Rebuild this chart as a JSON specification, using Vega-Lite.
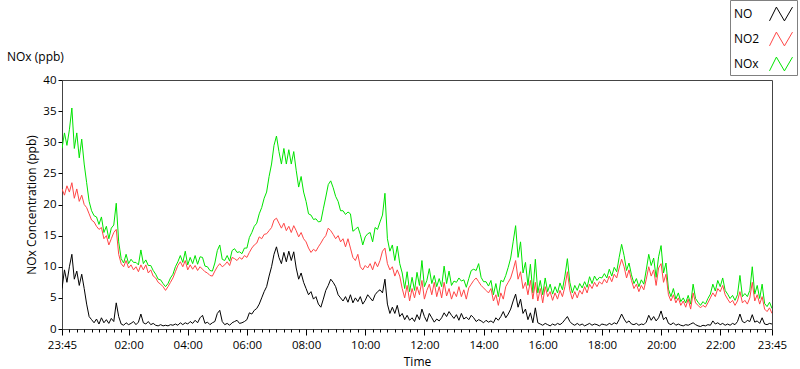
{
"$schema": "https://vega.github.io/schema/vega-lite/v6.json",
"width": 710, "height": 249,
"autosize": {"type": "none"},
"padding": {"left": 62, "top": 80, "right": 28, "bottom": 40},
"background": "white",
"title": {"text": "NOx (ppb)", "anchor": "start", "frame": "group", "dx": -55, "dy": 80, "offset": 16, "fontSize": 12, "fontWeight": "normal", "font": "Open Sans", "color": "#000"},
"data": {"values": [
{"t":"2024-01-01T23:45","NO":6.5,"NO2":22.5,"NOx":29},
{"t":"2024-01-01T23:50","NO":9.5,"NO2":21.5,"NOx":31.5},
{"t":"2024-01-01T23:55","NO":7.5,"NO2":23,"NOx":29.5},
{"t":"2024-01-02T00:00","NO":10,"NO2":22,"NOx":32},
{"t":"2024-01-02T00:05","NO":12,"NO2":23.5,"NOx":35.5},
{"t":"2024-01-02T00:10","NO":8,"NO2":21,"NOx":29},
{"t":"2024-01-02T00:15","NO":9.3,"NO2":22.5,"NOx":31.5},
{"t":"2024-01-02T00:20","NO":7,"NO2":20.5,"NOx":27.5},
{"t":"2024-01-02T00:25","NO":8.8,"NO2":21.5,"NOx":30.5},
{"t":"2024-01-02T00:30","NO":6.5,"NO2":20,"NOx":26.5},
{"t":"2024-01-02T00:35","NO":4,"NO2":19.5,"NOx":23.5},
{"t":"2024-01-02T00:40","NO":2,"NO2":18.5,"NOx":20.5},
{"t":"2024-01-02T00:45","NO":1.5,"NO2":17.5,"NOx":19},
{"t":"2024-01-02T00:50","NO":1,"NO2":17.2,"NOx":18.2},
{"t":"2024-01-02T00:55","NO":1.6,"NO2":16.5,"NOx":18},
{"t":"2024-01-02T01:00","NO":0.8,"NO2":16,"NOx":16.8},
{"t":"2024-01-02T01:05","NO":1.8,"NO2":16.3,"NOx":18},
{"t":"2024-01-02T01:10","NO":1,"NO2":14.5,"NOx":15.5},
{"t":"2024-01-02T01:15","NO":1.5,"NO2":15,"NOx":16.5},
{"t":"2024-01-02T01:20","NO":0.9,"NO2":13.5,"NOx":14.5},
{"t":"2024-01-02T01:25","NO":1.7,"NO2":14.5,"NOx":16.2},
{"t":"2024-01-02T01:30","NO":1.2,"NO2":15.5,"NOx":16.7},
{"t":"2024-01-02T01:35","NO":4.2,"NO2":16,"NOx":20.2},
{"t":"2024-01-02T01:40","NO":2,"NO2":12,"NOx":14},
{"t":"2024-01-02T01:45","NO":0.8,"NO2":10.5,"NOx":11.3},
{"t":"2024-01-02T01:50","NO":0.6,"NO2":10,"NOx":10.6},
{"t":"2024-01-02T01:55","NO":1,"NO2":11,"NOx":12},
{"t":"2024-01-02T02:00","NO":0.7,"NO2":9.8,"NOx":10.5},
{"t":"2024-01-02T02:05","NO":0.9,"NO2":10.3,"NOx":11.2},
{"t":"2024-01-02T02:10","NO":1.2,"NO2":9.5,"NOx":10.7},
{"t":"2024-01-02T02:15","NO":0.7,"NO2":10,"NOx":10.7},
{"t":"2024-01-02T02:20","NO":1.1,"NO2":9.2,"NOx":10.3},
{"t":"2024-01-02T02:25","NO":2.4,"NO2":10.3,"NOx":12.7},
{"t":"2024-01-02T02:30","NO":1,"NO2":9.5,"NOx":10.5},
{"t":"2024-01-02T02:35","NO":0.8,"NO2":10.3,"NOx":11.1},
{"t":"2024-01-02T02:40","NO":1.2,"NO2":9,"NOx":10.2},
{"t":"2024-01-02T02:45","NO":0.7,"NO2":9.5,"NOx":10.2},
{"t":"2024-01-02T02:50","NO":0.9,"NO2":8.5,"NOx":9.4},
{"t":"2024-01-02T02:55","NO":0.6,"NO2":8.2,"NOx":8.8},
{"t":"2024-01-02T03:00","NO":0.5,"NO2":7.5,"NOx":8},
{"t":"2024-01-02T03:05","NO":0.7,"NO2":7.2,"NOx":7.9},
{"t":"2024-01-02T03:10","NO":0.5,"NO2":6.8,"NOx":7.3},
{"t":"2024-01-02T03:15","NO":0.6,"NO2":6.2,"NOx":6.8},
{"t":"2024-01-02T03:20","NO":0.5,"NO2":6.8,"NOx":7.3},
{"t":"2024-01-02T03:25","NO":0.7,"NO2":7.5,"NOx":8.2},
{"t":"2024-01-02T03:30","NO":0.6,"NO2":8.2,"NOx":8.8},
{"t":"2024-01-02T03:35","NO":0.8,"NO2":9.2,"NOx":10},
{"t":"2024-01-02T03:40","NO":0.6,"NO2":10.2,"NOx":10.8},
{"t":"2024-01-02T03:45","NO":1,"NO2":10.8,"NOx":11.8},
{"t":"2024-01-02T03:50","NO":0.7,"NO2":10,"NOx":10.7},
{"t":"2024-01-02T03:55","NO":1,"NO2":11,"NOx":12.5},
{"t":"2024-01-02T04:00","NO":0.8,"NO2":9.5,"NOx":10.3},
{"t":"2024-01-02T04:05","NO":1.2,"NO2":10.3,"NOx":11.5},
{"t":"2024-01-02T04:10","NO":0.9,"NO2":9.6,"NOx":10.5},
{"t":"2024-01-02T04:15","NO":1.4,"NO2":10.2,"NOx":11.8},
{"t":"2024-01-02T04:20","NO":1,"NO2":9.4,"NOx":10.4},
{"t":"2024-01-02T04:25","NO":1.8,"NO2":10,"NOx":11.6},
{"t":"2024-01-02T04:30","NO":2.2,"NO2":9.6,"NOx":11.5},
{"t":"2024-01-02T04:35","NO":0.9,"NO2":9.2,"NOx":10.1},
{"t":"2024-01-02T04:40","NO":1.1,"NO2":9,"NOx":10},
{"t":"2024-01-02T04:45","NO":0.7,"NO2":8.6,"NOx":9.4},
{"t":"2024-01-02T04:50","NO":1,"NO2":8.5,"NOx":9.3},
{"t":"2024-01-02T04:55","NO":1.2,"NO2":9.3,"NOx":10.6},
{"t":"2024-01-02T05:00","NO":2.5,"NO2":10,"NOx":12.6},
{"t":"2024-01-02T05:05","NO":3,"NO2":10.5,"NOx":13.5},
{"t":"2024-01-02T05:10","NO":1.2,"NO2":10,"NOx":11.2},
{"t":"2024-01-02T05:15","NO":0.7,"NO2":10.3,"NOx":11},
{"t":"2024-01-02T05:20","NO":0.9,"NO2":10.8,"NOx":11.8},
{"t":"2024-01-02T05:25","NO":0.6,"NO2":10.2,"NOx":10.9},
{"t":"2024-01-02T05:30","NO":1,"NO2":11.5,"NOx":12.6},
{"t":"2024-01-02T05:35","NO":1.2,"NO2":11.3,"NOx":12.9},
{"t":"2024-01-02T05:40","NO":1.4,"NO2":11,"NOx":12.3},
{"t":"2024-01-02T05:45","NO":0.9,"NO2":11.5,"NOx":12.4},
{"t":"2024-01-02T05:50","NO":1,"NO2":11.2,"NOx":12.1},
{"t":"2024-01-02T05:55","NO":1.2,"NO2":11.8,"NOx":13},
{"t":"2024-01-02T06:00","NO":1.5,"NO2":11.5,"NOx":13},
{"t":"2024-01-02T06:05","NO":2.6,"NO2":12.3,"NOx":14.7},
{"t":"2024-01-02T06:10","NO":2.4,"NO2":13,"NOx":15.5},
{"t":"2024-01-02T06:15","NO":3,"NO2":13.5,"NOx":16.5},
{"t":"2024-01-02T06:20","NO":3.3,"NO2":13.8,"NOx":17},
{"t":"2024-01-02T06:25","NO":4,"NO2":14.8,"NOx":18.5},
{"t":"2024-01-02T06:30","NO":5,"NO2":14.5,"NOx":19.5},
{"t":"2024-01-02T06:35","NO":6,"NO2":15.2,"NOx":21},
{"t":"2024-01-02T06:40","NO":6.8,"NO2":15.3,"NOx":22},
{"t":"2024-01-02T06:45","NO":8.5,"NO2":15.8,"NOx":24.5},
{"t":"2024-01-02T06:50","NO":10,"NO2":16.3,"NOx":26.5},
{"t":"2024-01-02T06:55","NO":12,"NO2":17.5,"NOx":29.5},
{"t":"2024-01-02T07:00","NO":13.2,"NO2":17.8,"NOx":31},
{"t":"2024-01-02T07:05","NO":11.5,"NO2":17,"NOx":28.5},
{"t":"2024-01-02T07:10","NO":10.5,"NO2":16.2,"NOx":26.5},
{"t":"2024-01-02T07:15","NO":12.3,"NO2":17,"NOx":29},
{"t":"2024-01-02T07:20","NO":10.8,"NO2":15.8,"NOx":26.5},
{"t":"2024-01-02T07:25","NO":12.5,"NO2":16.5,"NOx":28.8},
{"t":"2024-01-02T07:30","NO":11,"NO2":15.5,"NOx":26.5},
{"t":"2024-01-02T07:35","NO":12.4,"NO2":16.6,"NOx":28.5},
{"t":"2024-01-02T07:40","NO":9.8,"NO2":15.8,"NOx":25.5},
{"t":"2024-01-02T07:45","NO":8,"NO2":14.8,"NOx":22.8},
{"t":"2024-01-02T07:50","NO":9,"NO2":15.5,"NOx":24.5},
{"t":"2024-01-02T07:55","NO":7.5,"NO2":14.5,"NOx":22},
{"t":"2024-01-02T08:00","NO":6.5,"NO2":14,"NOx":20.5},
{"t":"2024-01-02T08:05","NO":5.5,"NO2":13,"NOx":18.5},
{"t":"2024-01-02T08:10","NO":6,"NO2":12.3,"NOx":18.3},
{"t":"2024-01-02T08:15","NO":4.8,"NO2":12.8,"NOx":17.6},
{"t":"2024-01-02T08:20","NO":5.2,"NO2":12.5,"NOx":17.7},
{"t":"2024-01-02T08:25","NO":4,"NO2":13.2,"NOx":17.2},
{"t":"2024-01-02T08:30","NO":3.5,"NO2":13.8,"NOx":17.3},
{"t":"2024-01-02T08:35","NO":4.8,"NO2":14.5,"NOx":19.3},
{"t":"2024-01-02T08:40","NO":6.2,"NO2":15,"NOx":21.2},
{"t":"2024-01-02T08:45","NO":7,"NO2":16.2,"NOx":23.2},
{"t":"2024-01-02T08:50","NO":8,"NO2":15.8,"NOx":23.8},
{"t":"2024-01-02T08:55","NO":7.5,"NO2":15.2,"NOx":22.7},
{"t":"2024-01-02T09:00","NO":6.8,"NO2":14.5,"NOx":21.3},
{"t":"2024-01-02T09:05","NO":5.5,"NO2":15,"NOx":20.5},
{"t":"2024-01-02T09:10","NO":5,"NO2":14,"NOx":19},
{"t":"2024-01-02T09:15","NO":4.5,"NO2":14.5,"NOx":19},
{"t":"2024-01-02T09:20","NO":5.2,"NO2":13.2,"NOx":18.4},
{"t":"2024-01-02T09:25","NO":4.3,"NO2":14.5,"NOx":18.8},
{"t":"2024-01-02T09:30","NO":5.5,"NO2":13,"NOx":18.5},
{"t":"2024-01-02T09:35","NO":4.2,"NO2":11.5,"NOx":15.7},
{"t":"2024-01-02T09:40","NO":5,"NO2":11,"NOx":16},
{"t":"2024-01-02T09:45","NO":4.4,"NO2":12,"NOx":16.4},
{"t":"2024-01-02T09:50","NO":5.2,"NO2":10,"NOx":15.2},
{"t":"2024-01-02T09:55","NO":4,"NO2":9.5,"NOx":13.5},
{"t":"2024-01-02T10:00","NO":4.6,"NO2":10.2,"NOx":14.8},
{"t":"2024-01-02T10:05","NO":5.5,"NO2":9.8,"NOx":15.3},
{"t":"2024-01-02T10:10","NO":5,"NO2":10.5,"NOx":15.5},
{"t":"2024-01-02T10:15","NO":4.5,"NO2":9.5,"NOx":14},
{"t":"2024-01-02T10:20","NO":5.5,"NO2":10.8,"NOx":16.3},
{"t":"2024-01-02T10:25","NO":6,"NO2":10,"NOx":16},
{"t":"2024-01-02T10:30","NO":6.3,"NO2":11,"NOx":17.2},
{"t":"2024-01-02T10:35","NO":5.8,"NO2":12.5,"NOx":18.3},
{"t":"2024-01-02T10:40","NO":8,"NO2":13,"NOx":21.8},
{"t":"2024-01-02T10:45","NO":4,"NO2":10.5,"NOx":14.5},
{"t":"2024-01-02T10:50","NO":2.5,"NO2":9.5,"NOx":12.5},
{"t":"2024-01-02T10:55","NO":3.5,"NO2":10,"NOx":13.5},
{"t":"2024-01-02T11:00","NO":2.5,"NO2":8.5,"NOx":11},
{"t":"2024-01-02T11:05","NO":3.8,"NO2":9.5,"NOx":13.3},
{"t":"2024-01-02T11:10","NO":2,"NO2":8.5,"NOx":10.5},
{"t":"2024-01-02T11:15","NO":2.5,"NO2":6.5,"NOx":9},
{"t":"2024-01-02T11:20","NO":1.5,"NO2":5,"NOx":6.5},
{"t":"2024-01-02T11:25","NO":2.2,"NO2":7,"NOx":9.2},
{"t":"2024-01-02T11:30","NO":1.4,"NO2":4.5,"NOx":6},
{"t":"2024-01-02T11:35","NO":1.8,"NO2":6.5,"NOx":8.3},
{"t":"2024-01-02T11:40","NO":1.2,"NO2":5,"NOx":6.2},
{"t":"2024-01-02T11:45","NO":2.3,"NO2":6.8,"NOx":9.1},
{"t":"2024-01-02T11:50","NO":1.5,"NO2":5.5,"NOx":7},
{"t":"2024-01-02T11:55","NO":3.2,"NO2":7.8,"NOx":11},
{"t":"2024-01-02T12:00","NO":2,"NO2":4.8,"NOx":6.8},
{"t":"2024-01-02T12:05","NO":1.2,"NO2":6.2,"NOx":7.8},
{"t":"2024-01-02T12:10","NO":2.5,"NO2":7.2,"NOx":9.7},
{"t":"2024-01-02T12:15","NO":1.8,"NO2":5.5,"NOx":7.3},
{"t":"2024-01-02T12:20","NO":1.1,"NO2":7.5,"NOx":8.6},
{"t":"2024-01-02T12:25","NO":1.6,"NO2":5.2,"NOx":6.8},
{"t":"2024-01-02T12:30","NO":1.3,"NO2":6.8,"NOx":8.1},
{"t":"2024-01-02T12:35","NO":1.8,"NO2":5,"NOx":6.8},
{"t":"2024-01-02T12:40","NO":2.6,"NO2":7.5,"NOx":10.1},
{"t":"2024-01-02T12:45","NO":2,"NO2":5.3,"NOx":7.3},
{"t":"2024-01-02T12:50","NO":2.8,"NO2":6.5,"NOx":9.3},
{"t":"2024-01-02T12:55","NO":2.2,"NO2":4.8,"NOx":7},
{"t":"2024-01-02T13:00","NO":1.7,"NO2":6,"NOx":7.7},
{"t":"2024-01-02T13:05","NO":2.3,"NO2":5.2,"NOx":7.5},
{"t":"2024-01-02T13:10","NO":1.4,"NO2":6.8,"NOx":8.2},
{"t":"2024-01-02T13:15","NO":2.5,"NO2":5.2,"NOx":7.7},
{"t":"2024-01-02T13:20","NO":1.6,"NO2":6.3,"NOx":7.9},
{"t":"2024-01-02T13:25","NO":1.9,"NO2":4.8,"NOx":6.7},
{"t":"2024-01-02T13:30","NO":1.5,"NO2":6.6,"NOx":8.1},
{"t":"2024-01-02T13:35","NO":2.2,"NO2":7.2,"NOx":9.4},
{"t":"2024-01-02T13:40","NO":1.8,"NO2":7.8,"NOx":9.6},
{"t":"2024-01-02T13:45","NO":1.2,"NO2":8.2,"NOx":9.4},
{"t":"2024-01-02T13:50","NO":1.5,"NO2":7.6,"NOx":10.5},
{"t":"2024-01-02T13:55","NO":1.3,"NO2":7,"NOx":8.3},
{"t":"2024-01-02T14:00","NO":1,"NO2":6.6,"NOx":7.6},
{"t":"2024-01-02T14:05","NO":1.4,"NO2":6.2,"NOx":7.6},
{"t":"2024-01-02T14:10","NO":1.1,"NO2":5.8,"NOx":6.9},
{"t":"2024-01-02T14:15","NO":1.3,"NO2":6.5,"NOx":7.8},
{"t":"2024-01-02T14:20","NO":1,"NO2":4.5,"NOx":5.5},
{"t":"2024-01-02T14:25","NO":1.8,"NO2":5.5,"NOx":7.3},
{"t":"2024-01-02T14:30","NO":1.4,"NO2":3.8,"NOx":5.2},
{"t":"2024-01-02T14:35","NO":2,"NO2":5.8,"NOx":7.8},
{"t":"2024-01-02T14:40","NO":2.8,"NO2":4.8,"NOx":7.6},
{"t":"2024-01-02T14:45","NO":1.8,"NO2":6.8,"NOx":8.6},
{"t":"2024-01-02T14:50","NO":2.4,"NO2":7.5,"NOx":9.9},
{"t":"2024-01-02T14:55","NO":3.2,"NO2":8.2,"NOx":11.4},
{"t":"2024-01-02T15:00","NO":4.5,"NO2":9.5,"NOx":14},
{"t":"2024-01-02T15:05","NO":5.6,"NO2":11,"NOx":16.6},
{"t":"2024-01-02T15:10","NO":3.5,"NO2":8,"NOx":11.5},
{"t":"2024-01-02T15:15","NO":4.8,"NO2":9.2,"NOx":14},
{"t":"2024-01-02T15:20","NO":2.5,"NO2":6.5,"NOx":9},
{"t":"2024-01-02T15:25","NO":3.2,"NO2":7.5,"NOx":10.7},
{"t":"2024-01-02T15:30","NO":1.5,"NO2":5.5,"NOx":7},
{"t":"2024-01-02T15:35","NO":2.6,"NO2":7.8,"NOx":10.4},
{"t":"2024-01-02T15:40","NO":1,"NO2":4.8,"NOx":5.8},
{"t":"2024-01-02T15:45","NO":3.4,"NO2":7.5,"NOx":11.2},
{"t":"2024-01-02T15:50","NO":1,"NO2":4.5,"NOx":5.8},
{"t":"2024-01-02T15:55","NO":0.8,"NO2":6.5,"NOx":7.8},
{"t":"2024-01-02T16:00","NO":0.6,"NO2":4.2,"NOx":5.5},
{"t":"2024-01-02T16:05","NO":0.9,"NO2":6.8,"NOx":8.2},
{"t":"2024-01-02T16:10","NO":0.7,"NO2":5.2,"NOx":6},
{"t":"2024-01-02T16:15","NO":0.5,"NO2":6,"NOx":7.2},
{"t":"2024-01-02T16:20","NO":0.8,"NO2":4.6,"NOx":5.6},
{"t":"2024-01-02T16:25","NO":0.6,"NO2":5.8,"NOx":6.8},
{"t":"2024-01-02T16:30","NO":0.9,"NO2":4.8,"NOx":5.8},
{"t":"2024-01-02T16:35","NO":0.7,"NO2":6.2,"NOx":7.4},
{"t":"2024-01-02T16:40","NO":1,"NO2":5.2,"NOx":6.3},
{"t":"2024-01-02T16:45","NO":1.5,"NO2":6.8,"NOx":8.5},
{"t":"2024-01-02T16:50","NO":2,"NO2":9.2,"NOx":11.3},
{"t":"2024-01-02T16:55","NO":1.2,"NO2":6.2,"NOx":7.5},
{"t":"2024-01-02T17:00","NO":0.8,"NO2":4.8,"NOx":5.8},
{"t":"2024-01-02T17:05","NO":0.6,"NO2":6,"NOx":7},
{"t":"2024-01-02T17:10","NO":0.9,"NO2":5,"NOx":6.2},
{"t":"2024-01-02T17:15","NO":0.6,"NO2":6.2,"NOx":7.3},
{"t":"2024-01-02T17:20","NO":0.8,"NO2":5.6,"NOx":6.6},
{"t":"2024-01-02T17:25","NO":0.5,"NO2":6.8,"NOx":7.6},
{"t":"2024-01-02T17:30","NO":0.7,"NO2":5.8,"NOx":6.7},
{"t":"2024-01-02T17:35","NO":0.9,"NO2":7.2,"NOx":8.4},
{"t":"2024-01-02T17:40","NO":0.6,"NO2":6.5,"NOx":7.3},
{"t":"2024-01-02T17:45","NO":0.8,"NO2":7.5,"NOx":8.5},
{"t":"2024-01-02T17:50","NO":0.7,"NO2":6.8,"NOx":7.8},
{"t":"2024-01-02T17:55","NO":0.5,"NO2":7.6,"NOx":8.3},
{"t":"2024-01-02T18:00","NO":0.8,"NO2":7.2,"NOx":8.2},
{"t":"2024-01-02T18:05","NO":0.7,"NO2":8,"NOx":8.9},
{"t":"2024-01-02T18:10","NO":0.6,"NO2":7.4,"NOx":8.2},
{"t":"2024-01-02T18:15","NO":0.9,"NO2":8.5,"NOx":9.6},
{"t":"2024-01-02T18:20","NO":0.7,"NO2":7.6,"NOx":8.5},
{"t":"2024-01-02T18:25","NO":1,"NO2":8.8,"NOx":9.9},
{"t":"2024-01-02T18:30","NO":0.8,"NO2":8.2,"NOx":9.2},
{"t":"2024-01-02T18:35","NO":1.5,"NO2":9.8,"NOx":11.5},
{"t":"2024-01-02T18:40","NO":2.4,"NO2":11.2,"NOx":13.6},
{"t":"2024-01-02T18:45","NO":1.6,"NO2":10,"NOx":11.8},
{"t":"2024-01-02T18:50","NO":1,"NO2":8.2,"NOx":9.4},
{"t":"2024-01-02T18:55","NO":1.3,"NO2":9.5,"NOx":10.6},
{"t":"2024-01-02T19:00","NO":0.8,"NO2":7.8,"NOx":8.7},
{"t":"2024-01-02T19:05","NO":0.7,"NO2":6.5,"NOx":7.3},
{"t":"2024-01-02T19:10","NO":0.9,"NO2":7.2,"NOx":8.1},
{"t":"2024-01-02T19:15","NO":0.6,"NO2":6,"NOx":6.8},
{"t":"2024-01-02T19:20","NO":0.8,"NO2":7,"NOx":7.9},
{"t":"2024-01-02T19:25","NO":0.7,"NO2":6.3,"NOx":7.2},
{"t":"2024-01-02T19:30","NO":1.1,"NO2":8,"NOx":9.5},
{"t":"2024-01-02T19:35","NO":2.2,"NO2":10,"NOx":12},
{"t":"2024-01-02T19:40","NO":1.4,"NO2":8.5,"NOx":10.2},
{"t":"2024-01-02T19:45","NO":2,"NO2":9.5,"NOx":11.4},
{"t":"2024-01-02T19:50","NO":1.3,"NO2":7,"NOx":8.3},
{"t":"2024-01-02T19:55","NO":1.8,"NO2":9.8,"NOx":11.6},
{"t":"2024-01-02T20:00","NO":2.9,"NO2":10.5,"NOx":13.4},
{"t":"2024-01-02T20:05","NO":1.5,"NO2":7.5,"NOx":9},
{"t":"2024-01-02T20:10","NO":1.9,"NO2":8.8,"NOx":10.6},
{"t":"2024-01-02T20:15","NO":0.9,"NO2":5.5,"NOx":6.4},
{"t":"2024-01-02T20:20","NO":0.7,"NO2":4.5,"NOx":5.2},
{"t":"2024-01-02T20:25","NO":1,"NO2":5.5,"NOx":6.5},
{"t":"2024-01-02T20:30","NO":0.6,"NO2":4.2,"NOx":4.8},
{"t":"2024-01-02T20:35","NO":0.8,"NO2":5,"NOx":5.8},
{"t":"2024-01-02T20:40","NO":0.6,"NO2":3.8,"NOx":4.4},
{"t":"2024-01-02T20:45","NO":0.5,"NO2":4.5,"NOx":5},
{"t":"2024-01-02T20:50","NO":0.7,"NO2":3.5,"NOx":4.2},
{"t":"2024-01-02T20:55","NO":0.6,"NO2":4.8,"NOx":5.4},
{"t":"2024-01-02T21:00","NO":0.8,"NO2":3.2,"NOx":4},
{"t":"2024-01-02T21:05","NO":1,"NO2":5.8,"NOx":7.2},
{"t":"2024-01-02T21:10","NO":0.7,"NO2":4.2,"NOx":4.9},
{"t":"2024-01-02T21:15","NO":0.5,"NO2":3.8,"NOx":4.3},
{"t":"2024-01-02T21:20","NO":0.4,"NO2":3.4,"NOx":3.8},
{"t":"2024-01-02T21:25","NO":0.6,"NO2":3.8,"NOx":4.4},
{"t":"2024-01-02T21:30","NO":0.5,"NO2":3.5,"NOx":4},
{"t":"2024-01-02T21:35","NO":0.7,"NO2":4.2,"NOx":4.9},
{"t":"2024-01-02T21:40","NO":0.6,"NO2":5,"NOx":5.6},
{"t":"2024-01-02T21:45","NO":1.3,"NO2":5.8,"NOx":7.2},
{"t":"2024-01-02T21:50","NO":0.8,"NO2":5.2,"NOx":6.1},
{"t":"2024-01-02T21:55","NO":1,"NO2":6.5,"NOx":7.8},
{"t":"2024-01-02T22:00","NO":0.7,"NO2":6,"NOx":6.8},
{"t":"2024-01-02T22:05","NO":0.9,"NO2":7,"NOx":8.2},
{"t":"2024-01-02T22:10","NO":0.6,"NO2":5.5,"NOx":6.2},
{"t":"2024-01-02T22:15","NO":0.8,"NO2":4.8,"NOx":5.6},
{"t":"2024-01-02T22:20","NO":0.6,"NO2":4.2,"NOx":4.9},
{"t":"2024-01-02T22:25","NO":0.9,"NO2":4.6,"NOx":5.4},
{"t":"2024-01-02T22:30","NO":0.7,"NO2":3.8,"NOx":4.6},
{"t":"2024-01-02T22:35","NO":1.2,"NO2":4.5,"NOx":5.5},
{"t":"2024-01-02T22:40","NO":2.4,"NO2":6,"NOx":8.6},
{"t":"2024-01-02T22:45","NO":1.2,"NO2":4.2,"NOx":5.2},
{"t":"2024-01-02T22:50","NO":1,"NO2":4.6,"NOx":5.7},
{"t":"2024-01-02T22:55","NO":1.4,"NO2":4,"NOx":5.2},
{"t":"2024-01-02T23:00","NO":1.2,"NO2":5,"NOx":6.2},
{"t":"2024-01-02T23:05","NO":2.3,"NO2":7.5,"NOx":10},
{"t":"2024-01-02T23:10","NO":1.1,"NO2":4.5,"NOx":5.6},
{"t":"2024-01-02T23:15","NO":1.3,"NO2":5.5,"NOx":7},
{"t":"2024-01-02T23:20","NO":0.9,"NO2":4,"NOx":4.9},
{"t":"2024-01-02T23:25","NO":1.8,"NO2":5.2,"NOx":7.2},
{"t":"2024-01-02T23:30","NO":0.8,"NO2":3.2,"NOx":4.1},
{"t":"2024-01-02T23:35","NO":0.7,"NO2":2.8,"NOx":3.6},
{"t":"2024-01-02T23:40","NO":0.9,"NO2":3.4,"NOx":4.3},
{"t":"2024-01-02T23:45","NO":0.8,"NO2":2.5,"NOx":3.3}
]},
"transform": [{"fold": ["NOx", "NO2", "NO"], "as": ["series", "value"]}],
"mark": {"type": "line", "strokeWidth": 1, "clip": true},
"encoding": {
  "x": {"field": "t", "type": "temporal",
    "scale": {"domain": [{"year": 2024, "month": 1, "date": 1, "hours": 23, "minutes": 45}, {"year": 2024, "month": 1, "date": 2, "hours": 23, "minutes": 45}], "nice": false},
    "axis": {"title": "Time", "format": "%H:%M",
      "values": [
{"year":2024,"month":1,"date":1,"hours":23,"minutes":45},
{"year":2024,"month":1,"date":2,"hours":0,"minutes":0},{"year":2024,"month":1,"date":2,"hours":0,"minutes":15},{"year":2024,"month":1,"date":2,"hours":0,"minutes":30},{"year":2024,"month":1,"date":2,"hours":0,"minutes":45},
{"year":2024,"month":1,"date":2,"hours":1,"minutes":0},{"year":2024,"month":1,"date":2,"hours":1,"minutes":15},{"year":2024,"month":1,"date":2,"hours":1,"minutes":30},{"year":2024,"month":1,"date":2,"hours":1,"minutes":45},
{"year":2024,"month":1,"date":2,"hours":2,"minutes":0},{"year":2024,"month":1,"date":2,"hours":2,"minutes":15},{"year":2024,"month":1,"date":2,"hours":2,"minutes":30},{"year":2024,"month":1,"date":2,"hours":2,"minutes":45},
{"year":2024,"month":1,"date":2,"hours":3,"minutes":0},{"year":2024,"month":1,"date":2,"hours":3,"minutes":15},{"year":2024,"month":1,"date":2,"hours":3,"minutes":30},{"year":2024,"month":1,"date":2,"hours":3,"minutes":45},
{"year":2024,"month":1,"date":2,"hours":4,"minutes":0},{"year":2024,"month":1,"date":2,"hours":4,"minutes":15},{"year":2024,"month":1,"date":2,"hours":4,"minutes":30},{"year":2024,"month":1,"date":2,"hours":4,"minutes":45},
{"year":2024,"month":1,"date":2,"hours":5,"minutes":0},{"year":2024,"month":1,"date":2,"hours":5,"minutes":15},{"year":2024,"month":1,"date":2,"hours":5,"minutes":30},{"year":2024,"month":1,"date":2,"hours":5,"minutes":45},
{"year":2024,"month":1,"date":2,"hours":6,"minutes":0},{"year":2024,"month":1,"date":2,"hours":6,"minutes":15},{"year":2024,"month":1,"date":2,"hours":6,"minutes":30},{"year":2024,"month":1,"date":2,"hours":6,"minutes":45},
{"year":2024,"month":1,"date":2,"hours":7,"minutes":0},{"year":2024,"month":1,"date":2,"hours":7,"minutes":15},{"year":2024,"month":1,"date":2,"hours":7,"minutes":30},{"year":2024,"month":1,"date":2,"hours":7,"minutes":45},
{"year":2024,"month":1,"date":2,"hours":8,"minutes":0},{"year":2024,"month":1,"date":2,"hours":8,"minutes":15},{"year":2024,"month":1,"date":2,"hours":8,"minutes":30},{"year":2024,"month":1,"date":2,"hours":8,"minutes":45},
{"year":2024,"month":1,"date":2,"hours":9,"minutes":0},{"year":2024,"month":1,"date":2,"hours":9,"minutes":15},{"year":2024,"month":1,"date":2,"hours":9,"minutes":30},{"year":2024,"month":1,"date":2,"hours":9,"minutes":45},
{"year":2024,"month":1,"date":2,"hours":10,"minutes":0},{"year":2024,"month":1,"date":2,"hours":10,"minutes":15},{"year":2024,"month":1,"date":2,"hours":10,"minutes":30},{"year":2024,"month":1,"date":2,"hours":10,"minutes":45},
{"year":2024,"month":1,"date":2,"hours":11,"minutes":0},{"year":2024,"month":1,"date":2,"hours":11,"minutes":15},{"year":2024,"month":1,"date":2,"hours":11,"minutes":30},{"year":2024,"month":1,"date":2,"hours":11,"minutes":45},
{"year":2024,"month":1,"date":2,"hours":12,"minutes":0},{"year":2024,"month":1,"date":2,"hours":12,"minutes":15},{"year":2024,"month":1,"date":2,"hours":12,"minutes":30},{"year":2024,"month":1,"date":2,"hours":12,"minutes":45},
{"year":2024,"month":1,"date":2,"hours":13,"minutes":0},{"year":2024,"month":1,"date":2,"hours":13,"minutes":15},{"year":2024,"month":1,"date":2,"hours":13,"minutes":30},{"year":2024,"month":1,"date":2,"hours":13,"minutes":45},
{"year":2024,"month":1,"date":2,"hours":14,"minutes":0},{"year":2024,"month":1,"date":2,"hours":14,"minutes":15},{"year":2024,"month":1,"date":2,"hours":14,"minutes":30},{"year":2024,"month":1,"date":2,"hours":14,"minutes":45},
{"year":2024,"month":1,"date":2,"hours":15,"minutes":0},{"year":2024,"month":1,"date":2,"hours":15,"minutes":15},{"year":2024,"month":1,"date":2,"hours":15,"minutes":30},{"year":2024,"month":1,"date":2,"hours":15,"minutes":45},
{"year":2024,"month":1,"date":2,"hours":16,"minutes":0},{"year":2024,"month":1,"date":2,"hours":16,"minutes":15},{"year":2024,"month":1,"date":2,"hours":16,"minutes":30},{"year":2024,"month":1,"date":2,"hours":16,"minutes":45},
{"year":2024,"month":1,"date":2,"hours":17,"minutes":0},{"year":2024,"month":1,"date":2,"hours":17,"minutes":15},{"year":2024,"month":1,"date":2,"hours":17,"minutes":30},{"year":2024,"month":1,"date":2,"hours":17,"minutes":45},
{"year":2024,"month":1,"date":2,"hours":18,"minutes":0},{"year":2024,"month":1,"date":2,"hours":18,"minutes":15},{"year":2024,"month":1,"date":2,"hours":18,"minutes":30},{"year":2024,"month":1,"date":2,"hours":18,"minutes":45},
{"year":2024,"month":1,"date":2,"hours":19,"minutes":0},{"year":2024,"month":1,"date":2,"hours":19,"minutes":15},{"year":2024,"month":1,"date":2,"hours":19,"minutes":30},{"year":2024,"month":1,"date":2,"hours":19,"minutes":45},
{"year":2024,"month":1,"date":2,"hours":20,"minutes":0},{"year":2024,"month":1,"date":2,"hours":20,"minutes":15},{"year":2024,"month":1,"date":2,"hours":20,"minutes":30},{"year":2024,"month":1,"date":2,"hours":20,"minutes":45},
{"year":2024,"month":1,"date":2,"hours":21,"minutes":0},{"year":2024,"month":1,"date":2,"hours":21,"minutes":15},{"year":2024,"month":1,"date":2,"hours":21,"minutes":30},{"year":2024,"month":1,"date":2,"hours":21,"minutes":45},
{"year":2024,"month":1,"date":2,"hours":22,"minutes":0},{"year":2024,"month":1,"date":2,"hours":22,"minutes":15},{"year":2024,"month":1,"date":2,"hours":22,"minutes":30},{"year":2024,"month":1,"date":2,"hours":22,"minutes":45},
{"year":2024,"month":1,"date":2,"hours":23,"minutes":0},{"year":2024,"month":1,"date":2,"hours":23,"minutes":15},{"year":2024,"month":1,"date":2,"hours":23,"minutes":30},{"year":2024,"month":1,"date":2,"hours":23,"minutes":45}
      ],
      "tickSize": {"condition": {"test": "(minutes(datum.value)==0 && hours(datum.value)%2==0 && hours(datum.value)!=0) || (hours(datum.value)==23 && minutes(datum.value)==45)", "value": 6}, "value": 3},
      "labelOpacity": {"condition": {"test": "(minutes(datum.value)==0 && hours(datum.value)%2==0 && hours(datum.value)!=0) || (hours(datum.value)==23 && minutes(datum.value)==45)", "value": 1}, "value": 0},
      "labelOverlap": false, "labelFlush": false, "labelPadding": 4, "titlePadding": 6, "grid": false, "domain": false}},
  "y": {"field": "value", "type": "quantitative",
    "scale": {"domain": [0, 40], "nice": false},
    "axis": {"title": "NOx Concentration (ppb)", "values": [0, 5, 10, 15, 20, 25, 30, 35, 40], "tickSize": 4, "labelPadding": 2, "titlePadding": 4, "grid": false, "domain": false}},
  "color": {"field": "series", "type": "nominal",
    "scale": {"domain": ["NO", "NO2", "NOx"], "range": ["#000000", "#ff4646", "#00e400"]},
    "legend": {"title": null, "orient": "none", "legendX": 668, "legendY": -80, "padding": 2, "strokeColor": "#808080", "fillColor": "#ffffff",
      "symbolType": "M-1,0.6L-0.4,-0.6L0.3,0.6L1,-0.6", "symbolSize": 529, "symbolStrokeWidth": 1, "symbolFillColor": "transparent",
      "labelOffset": -59, "symbolOffset": 37, "rowPadding": 4, "labelFontSize": 12, "labelFont": "Open Sans", "labelColor": "#000"}}
},
"config": {
  "view": {"stroke": "#444444"},
  "axis": {"labelFont": "Open Sans", "labelFontSize": 11.5, "labelColor": "#000", "titleFont": "Open Sans", "titleFontSize": 12, "titleFontWeight": "normal", "titleColor": "#000", "tickColor": "#000"}
}
}
